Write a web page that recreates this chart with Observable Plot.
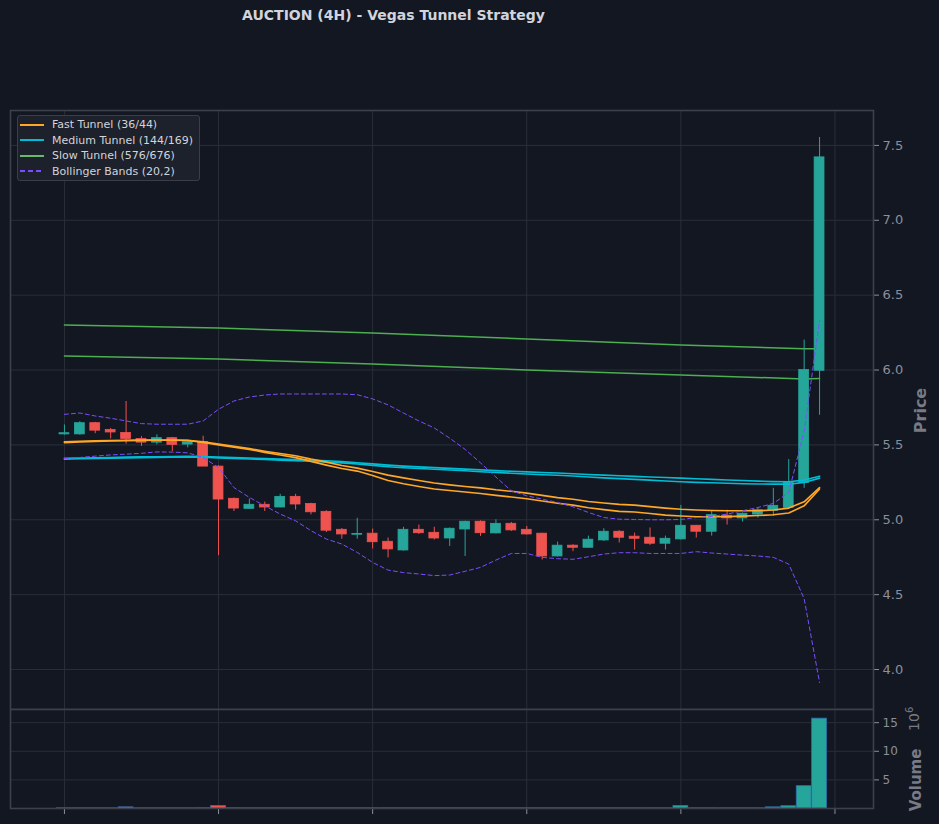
<!DOCTYPE html>
<html>
<head>
<meta charset="utf-8">
<script src="https://cdn.jsdelivr.net/npm/d3@7"></script>
<script src="https://cdn.jsdelivr.net/npm/@observablehq/plot@0.6"></script>
<style>
  html, body { margin: 0; padding: 0; background: #131722; }
  #wrap { position: relative; width: 939px; height: 824px; background: #131722; overflow: hidden; font-family: "DejaVu Sans", sans-serif; }
  #title { position: absolute; top: 7px; left: 0; width: 787px; text-align: center; color: #d1d4dc; font-weight: bold; font-size: 14px; }
  .abs { position: absolute; }
  .vlabel { position: absolute; color: #787b86; font-weight: bold; transform: rotate(-90deg); transform-origin: center center; white-space: nowrap; }
  #legend { position: absolute; left: 17px; top: 115px; width: 181px; height: 64px; background: rgba(30,34,45,0.95); border: 1px solid #3a3e4a; border-radius: 3px; }
  .li { position: absolute; left: 0; height: 15px; display: flex; align-items: center; color: #d1d4dc; font-size: 11px; white-space: nowrap; }
  .li svg { margin-left: 2px; margin-right: 8px; }
</style>
</head>
<body>
<div id="wrap">
  <div id="title">AUCTION (4H) - Vegas Tunnel Strategy</div>
  <div id="price" class="abs" style="left:0; top:109px;"></div>
  <div id="vol" class="abs" style="left:0; top:708px;"></div>
  <div id="legend"></div>
  <div class="vlabel" style="left:898px; top:401px; font-size:16px;">Price</div>
  <div class="vlabel" style="left:885px; top:771px; font-size:15px;">Volume</div>
  <div class="vlabel" style="left:901px; top:710px; font-size:14px; font-weight:normal;">10<sup style="font-size:10px">6</sup></div>
</div>
<script>
// ---- data ----
const openP  = [5.570,5.570,5.645,5.600,5.580,5.540,5.515,5.545,5.502,5.520,
                5.355,5.140,5.073,5.100,5.082,5.153,5.105,5.053,4.933,4.900,
                4.907,4.853,4.795,4.933,4.913,4.875,4.935,4.987,4.909,4.973,
                4.933,4.907,4.755,4.827,4.813,4.862,4.920,4.887,4.880,4.840,
                4.869,4.960,4.920,5.027,5.009,5.035,5.060,5.080,5.245,5.995];
const highP  = [5.633,5.655,5.650,5.610,5.790,5.555,5.567,5.550,5.530,5.558,
                5.360,5.145,5.138,5.118,5.170,5.170,5.110,5.060,4.942,5.010,
                4.938,4.878,4.950,4.965,4.950,4.945,4.990,4.993,5.000,4.982,
                4.955,4.910,4.851,4.833,4.891,4.940,4.927,4.911,4.945,4.891,
                5.096,4.962,5.060,5.064,5.045,5.078,5.210,5.402,6.200,7.553];
const lowP   = [5.565,5.565,5.575,5.540,5.505,5.490,5.500,5.455,5.480,5.355,
                4.760,5.055,5.070,5.055,5.080,5.065,5.033,4.915,4.870,4.870,
                4.805,4.745,4.790,4.902,4.865,4.822,4.755,4.889,4.905,4.922,
                4.898,4.731,4.752,4.787,4.809,4.855,4.845,4.798,4.829,4.798,
                4.865,4.878,4.891,4.965,4.985,5.011,5.022,5.075,5.210,5.698];
const closeP = [5.578,5.645,5.595,5.583,5.540,5.515,5.545,5.500,5.518,5.355,
                5.135,5.075,5.100,5.082,5.153,5.102,5.050,4.927,4.902,4.905,
                4.850,4.802,4.933,4.910,4.875,4.940,4.987,4.910,4.973,4.929,
                4.902,4.755,4.827,4.813,4.867,4.920,4.880,4.873,4.840,4.873,
                4.960,4.920,5.031,5.009,5.040,5.064,5.093,5.253,6.000,7.420];
const volumeM = [0.03,0.03,0.03,0.03,0.20,0.03,0.03,0.03,0.03,0.04,
                 0.45,0.04,0.03,0.03,0.03,0.03,0.03,0.03,0.03,0.03,
                 0.03,0.03,0.03,0.03,0.03,0.03,0.03,0.03,0.03,0.03,
                 0.03,0.03,0.03,0.03,0.03,0.03,0.03,0.03,0.03,0.03,
                 0.45,0.03,0.03,0.03,0.03,0.03,0.20,0.40,3.90,15.70];
// Fast tunnel (EMA 36 / 44)
const fastA = [5.520,5.524,5.527,5.529,5.531,5.533,5.533,5.533,5.531,5.520,
               5.505,5.490,5.475,5.458,5.443,5.428,5.405,5.385,5.362,5.345,
               5.322,5.298,5.280,5.262,5.245,5.233,5.222,5.213,5.200,5.190,
               5.178,5.163,5.148,5.137,5.122,5.112,5.103,5.098,5.088,5.078,
               5.070,5.065,5.062,5.060,5.060,5.060,5.065,5.078,5.120,5.215];
const fastB = [5.515,5.520,5.523,5.526,5.528,5.530,5.531,5.531,5.529,5.516,
               5.500,5.485,5.470,5.450,5.432,5.415,5.390,5.365,5.342,5.325,
               5.295,5.262,5.240,5.222,5.205,5.195,5.185,5.175,5.163,5.152,
               5.140,5.125,5.110,5.098,5.080,5.068,5.056,5.052,5.042,5.031,
               5.025,5.020,5.020,5.021,5.024,5.028,5.034,5.045,5.093,5.205];
// Medium tunnel (EMA 144 / 169)
const medA = [5.410,5.412,5.414,5.416,5.418,5.420,5.421,5.422,5.423,5.422,
              5.418,5.415,5.412,5.408,5.405,5.402,5.399,5.394,5.388,5.381,
              5.373,5.365,5.358,5.353,5.348,5.343,5.338,5.333,5.328,5.324,
              5.320,5.316,5.312,5.307,5.302,5.298,5.294,5.290,5.286,5.282,
              5.278,5.274,5.270,5.266,5.262,5.258,5.255,5.254,5.265,5.291];
const medB = [5.405,5.407,5.409,5.411,5.413,5.415,5.416,5.417,5.418,5.417,
              5.413,5.410,5.406,5.402,5.398,5.395,5.391,5.386,5.380,5.372,
              5.363,5.354,5.347,5.342,5.337,5.332,5.327,5.321,5.316,5.311,
              5.306,5.301,5.297,5.292,5.286,5.280,5.275,5.270,5.265,5.259,
              5.254,5.250,5.247,5.244,5.241,5.239,5.238,5.238,5.249,5.278];
// Slow tunnel (EMA 576 / 676), sampled at these candle indices
const slowIdx = [0, 10, 20, 30, 40, 48, 49];
const slowA = [6.300, 6.280, 6.247, 6.207, 6.167, 6.142, 6.142];
const slowB = [6.093, 6.073, 6.040, 6.000, 5.967, 5.940, 5.943];
// Bollinger Bands (20,2)
const bbUpper = [5.704,5.713,5.693,5.678,5.660,5.642,5.638,5.638,5.638,5.660,
                 5.738,5.793,5.820,5.833,5.840,5.840,5.840,5.840,5.840,5.835,
                 5.807,5.767,5.713,5.660,5.613,5.545,5.470,5.380,5.285,5.193,
                 5.160,5.138,5.115,5.087,5.049,5.015,5.004,5.002,5.000,5.000,
                 5.002,5.015,5.022,5.038,5.060,5.082,5.109,5.182,5.593,6.327];
const bbLower = [5.409,5.416,5.425,5.433,5.438,5.444,5.453,5.452,5.447,5.416,
                 5.349,5.215,5.149,5.093,5.038,4.993,4.927,4.871,4.838,4.782,
                 4.715,4.664,4.647,4.638,4.627,4.631,4.656,4.682,4.731,4.775,
                 4.775,4.749,4.740,4.736,4.753,4.771,4.780,4.780,4.775,4.775,
                 4.775,4.787,4.778,4.771,4.764,4.758,4.749,4.704,4.473,3.913];
const xTicks = [0, 10, 20, 30, 40, 50];
const priceTicks = [4.0, 4.5, 5.0, 5.5, 6.0, 6.5, 7.0, 7.5];
const volTicks = [5, 10, 15];
const legendItems = [
  {label: "Fast Tunnel (36/44)", color: "#ffa726", dash: null},
  {label: "Medium Tunnel (144/169)", color: "#00bcd4", dash: null},
  {label: "Slow Tunnel (576/676)", color: "#66bb6a", dash: null},
  {label: "Bollinger Bands (20,2)", color: "#7c4dff", dash: "5,3"}
];

// ---- styling ----
const UP = "#26a69a", DOWN = "#ef5350";
const GRID = "#2a2e39", FRAME = "#3c404c", AXIS = "#8a8f99";
const xDomain = [-3.5, 52.5];

const candles = d3.range(openP.length).map(i => ({
  i, o: openP[i], h: highP[i], l: lowP[i], c: closeP[i], v: volumeM[i],
  up: closeP[i] >= openP[i]
}));
const series = (arr) => arr.map((y, i) => ({i, y}));
const slowSeries = (arr) => arr.map((y, k) => ({i: slowIdx[k], y}));

const price = Plot.plot({
  width: 939, height: 600,
  marginLeft: 10, marginRight: 66, marginTop: 1, marginBottom: 0,
  style: {background: "transparent", fontFamily: "DejaVu Sans, sans-serif"},
  x: {domain: xDomain, axis: null},
  y: {domain: [3.733, 7.733], axis: null},
  marks: [
    Plot.gridX(xTicks, {stroke: GRID, strokeOpacity: 1}),
    Plot.gridY(priceTicks, {stroke: GRID, strokeOpacity: 1}),
    Plot.line(slowSeries(slowA), {x: "i", y: "y", stroke: "#4caf50", strokeWidth: 1.5}),
    Plot.line(slowSeries(slowB), {x: "i", y: "y", stroke: "#4caf50", strokeWidth: 1.5}),
    Plot.ruleX(candles, {x: "i", y1: "l", y2: "h", stroke: d => d.up ? UP : DOWN, strokeWidth: 1}),
    Plot.rect(candles, {x1: d => d.i - 0.32, x2: d => d.i + 0.32, y1: "o", y2: "c",
      fill: d => d.up ? UP : DOWN, stroke: d => d.up ? UP : DOWN, strokeWidth: 0.8}),
    Plot.line(series(medA), {x: "i", y: "y", stroke: "#00bcd4", strokeWidth: 1.6}),
    Plot.line(series(medB), {x: "i", y: "y", stroke: "#00bcd4", strokeWidth: 1.6}),
    Plot.line(series(fastA), {x: "i", y: "y", stroke: "#ffa726", strokeWidth: 1.6}),
    Plot.line(series(fastB), {x: "i", y: "y", stroke: "#ffa726", strokeWidth: 1.6}),
    Plot.line(series(bbUpper), {x: "i", y: "y", stroke: "#7c4dff", strokeWidth: 1, strokeDasharray: "4,3"}),
    Plot.line(series(bbLower), {x: "i", y: "y", stroke: "#7c4dff", strokeWidth: 1, strokeDasharray: "4,3"}),
    Plot.axisY(priceTicks, {anchor: "right", tickFormat: d3.format(".1f"), tickSize: 5, tickPadding: 4,
      stroke: AXIS, fill: AXIS, fontSize: 13, label: null}),
    Plot.frame({stroke: FRAME, strokeWidth: 1.6})
  ]
});
document.getElementById("price").appendChild(price);

const vol = Plot.plot({
  width: 939, height: 116,
  marginLeft: 10, marginRight: 66, marginTop: 1, marginBottom: 16,
  style: {background: "transparent", fontFamily: "DejaVu Sans, sans-serif"},
  x: {domain: xDomain, axis: null},
  y: {domain: [0, 17.3], axis: null},
  marks: [
    Plot.gridX(xTicks, {stroke: GRID, strokeOpacity: 1}),
    Plot.gridY(volTicks, {stroke: GRID, strokeOpacity: 1}),
    Plot.rect(candles, {x1: d => d.i - 0.48, x2: d => d.i + 0.48, y1: 0, y2: "v",
      fill: d => d.up ? UP : DOWN, stroke: "#2f6fb0", strokeWidth: 0.8}),
    Plot.axisY(volTicks, {anchor: "right", tickSize: 5, tickPadding: 4, stroke: AXIS, fill: AXIS, fontSize: 12, label: null}),
    Plot.axisX(xTicks, {anchor: "bottom", tickSize: 6, tickFormat: () => "", stroke: AXIS, label: null}),
    Plot.frame({stroke: FRAME, strokeWidth: 1.6})
  ]
});
document.getElementById("vol").appendChild(vol);

// legend
const leg = document.getElementById("legend");
legendItems.forEach((it, k) => {
  const row = document.createElement("div");
  row.className = "li";
  row.style.top = (1 + k * 15.5) + "px";
  row.innerHTML = `<svg width="24" height="6"><line x1="0" y1="3" x2="24" y2="3" stroke="${it.color}" stroke-width="2" ${it.dash ? `stroke-dasharray="5,3"` : ""}/></svg><span>${it.label}</span>`;
  leg.appendChild(row);
});
</script>
</body>
</html>
